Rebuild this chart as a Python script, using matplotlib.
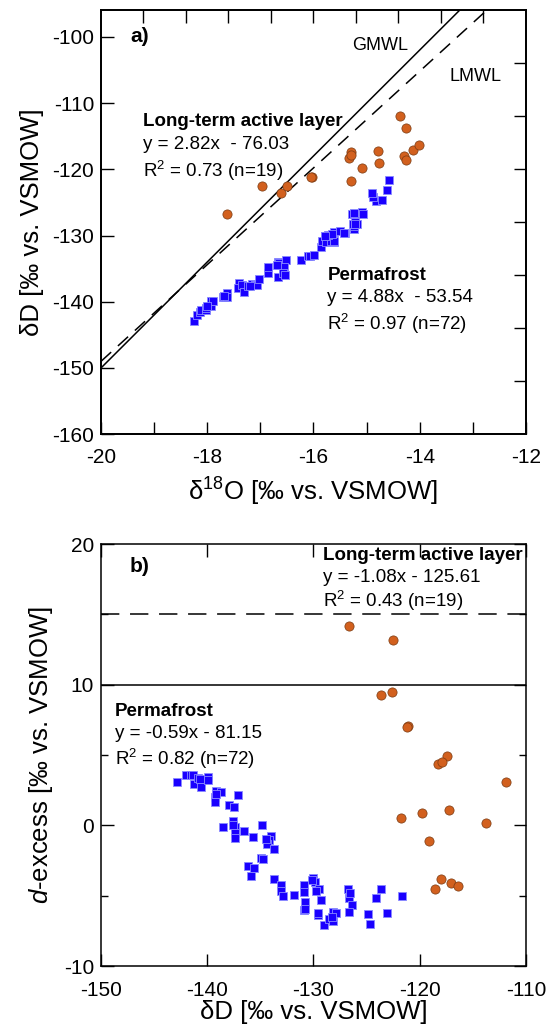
import numpy as np
import matplotlib
matplotlib.use("Agg")
import matplotlib.pyplot as plt

plt.rcParams['font.family'] = ['Liberation Sans', 'DejaVu Sans']
plt.rcParams['mathtext.fontset'] = 'custom'
plt.rcParams['mathtext.rm'] = 'Liberation Sans'
plt.rcParams['mathtext.it'] = 'Liberation Sans:italic'
plt.rcParams['mathtext.bf'] = 'Liberation Sans:bold'
plt.rcParams['axes.unicode_minus'] = False

# Long-term active layer (n=19)
al_d18o = [-17.62, -16.96, -16.61, -16.50, -16.02, -16.04, -15.30, -15.34, -15.30,
           -15.29, -15.09, -14.78, -14.76, -14.38, -14.26, -14.29, -14.25, -14.13, -14.02]
al_dD = [-126.7, -122.5, -123.6, -122.6, -121.1, -121.2, -117.4, -118.3, -117.9,
         -121.8, -119.8, -117.2, -119.1, -111.9, -113.8, -118.0, -118.6, -117.1, -116.4]
al_dexc = [14.2, 13.2, 9.3, 9.5, 7.1, 7.0, 4.9, 4.4, 4.5,
           0.5, 0.9, 1.1, -1.1, 3.1, 0.2, -3.8, -4.5, -4.1, -4.3]

# Permafrost (n=72)
pf_dD = [-142.88, -142.03, -141.56, -141.31, -141.25, -140.90, -140.59, -139.96, -139.96,
         -139.21, -138.71, -139.27, -139.30, -137.14, -137.95, -137.45, -138.49, -137.55,
         -137.39, -137.40, -137.40, -136.57, -135.66, -134.82, -134.03, -134.22, -134.40,
         -133.75, -134.94, -134.78, -136.20, -135.63, -135.91, -133.69, -133.09, -133.09,
         -132.90, -131.80, -130.86, -130.93, -130.77, -130.93, -130.77, -130.02, -129.89,
         -129.45, -129.80, -129.29, -129.58, -129.58, -129.01, -128.57, -128.19, -128.19,
         -127.91, -126.72, -126.69, -126.41, -126.69, -124.84, -124.71, -124.15, -123.62,
         -123.11, -121.64, -140.70, -137.60, -134.50, -130.10, -128.30, -126.60, -139.20]
pf_d18o = [-18.25, -18.20, -18.14, -18.11, -18.02, -18.03, -17.92, -17.93, -17.90,
           -17.71, -17.63, -17.66, -17.62, -17.41, -17.42, -17.35, -17.30, -17.23,
           -17.16, -17.10, -17.07, -17.03, -16.86, -16.86, -16.66, -16.65, -16.64,
           -16.51, -16.58, -16.55, -16.66, -16.57, -16.54, -16.24, -16.11, -16.06,
           -15.99, -15.86, -15.83, -15.77, -15.67, -15.61, -15.61, -15.79, -15.73,
           -15.62, -15.65, -15.50, -15.40, -15.42, -15.24, -15.24, -15.18, -15.25,
           -15.21, -15.28, -15.19, -15.09, -15.07, -14.82, -14.71, -14.88, -14.89,
           -14.61, -14.58, -18.00, -17.20, -16.69, -15.78, -15.22, -15.23, -17.68]
pf_dexc = [3.08, 3.56, 3.58, 3.56, 2.94, 3.37, 2.75, 3.46, 3.23,
           2.45, 2.35, 2.04, 1.69, 2.18, 1.43, 1.31, -0.11, 0.29,
           -0.11, -0.56, -0.87, -0.37, -0.82, 0.03, -0.78, -1.06, -1.32,
           -1.65, -2.29, -2.39, -2.91, -3.05, -3.60, -3.79, -4.21, -4.64,
           -5.00, -4.95, -4.24, -4.76, -5.42, -6.04, -5.93, -3.72, -4.05,
           -4.50, -4.64, -5.33, -6.39, -6.25, -7.06, -6.63, -6.77, -6.18,
           -6.20, -4.50, -5.14, -5.68, -6.15, -6.27, -7.01, -5.14, -4.50,
           -6.20, -5.04, 3.30, 0.00, -1.00, -3.90, -6.50, -4.80, 2.20]

# meteoric water lines (slope, intercept)
gmwl = (8.0, 10.0)
lmwl = (7.3, -3.0)
dexc_gmwl = 10
dexc_lmwl = 15

blue = '#1a00ff'
orange = '#d2601e'

fig = plt.figure(figsize=(5.53, 10.29), dpi=100)
ax1 = fig.add_axes([0.1826, 0.578, 0.7685, 0.412])
ax2 = fig.add_axes([0.1826, 0.0612, 0.7685, 0.410])

# ---- panel a) ----
xl = np.array([-20, -12])
ax1.plot(xl, gmwl[0] * xl + gmwl[1], color='k', lw=1.1)
ax1.plot(xl, lmwl[0] * xl + lmwl[1], color='k', lw=1.1, dashes=(9, 6))
ax1.scatter(pf_d18o, pf_dD, marker='s', s=38, color=blue, edgecolors='#8a8aff',
            linewidths=0.6, zorder=3)
ax1.scatter(al_d18o, al_dD, marker='o', s=44, color=orange, edgecolors='#7a3a12',
            linewidths=0.5, zorder=4)
ax1.set_xlim(-20, -12)
ax1.set_ylim(-160, -96)
ax1.set_xticks(np.arange(-20, -11, 2))
ax1.set_xticks(np.arange(-19, -12, 2), minor=True)
ax1.set_yticks(np.arange(-160, -99, 10))
ax1.tick_params(which='both', direction='in', labelsize=15, top=False, right=False,
                width=1, length=9)
ax1.tick_params(axis='x', pad=10)
ax1.tick_params(axis='y', pad=5)
ax1.set_xlabel(r'δ$^{18}$O [‰ vs. VSMOW]', fontsize=18.5)
ax1.set_ylabel('δD [‰ vs. VSMOW]', fontsize=18.5)
ax1.xaxis.set_label_coords(0.5, -0.097)
ax1.yaxis.set_label_coords(-0.135, 0.5)

tw = ax1.twinx()
tw.set_ylim(ax1.get_ylim())
tw.set_yticks(np.arange(-152, -100, 8))
tw.tick_params(direction='in', length=9, width=1, labelright=False)
ty = ax1.twiny()
ty.set_xlim(ax1.get_xlim())
ty.set_xticks(np.arange(-19.2, -12.1, 0.8))
ty.tick_params(direction='in', length=9, width=1, labeltop=False)

ax1.text(-19.45, -100, 'a)', fontsize=15, fontweight='bold', va='center')
ax1.text(-14.75, -101.3, 'GMWL', fontsize=13, ha='center', va='center')
ax1.text(-12.95, -106, 'LMWL', fontsize=13, ha='center', va='center')
ax1.text(-19.2, -112.8, 'Long-term active layer', fontsize=13.5, fontweight='bold', va='center')
ax1.text(-19.2, -116.2, 'y = 2.82x  - 76.03', fontsize=13.5, va='center')
ax1.text(-19.2, -120.3, r'R$^{2}$ = 0.73 (n=19)', fontsize=13.5, va='center')
ax1.text(-15.74, -136.1, 'Permafrost', fontsize=13.5, fontweight='bold', va='center')
ax1.text(-15.74, -139.3, 'y = 4.88x  - 53.54', fontsize=13.5, va='center')
ax1.text(-15.74, -143.3, r'R$^{2}$ = 0.97 (n=72)', fontsize=13.5, va='center')

# ---- panel b) ----
ax2.axhline(dexc_gmwl, color='k', lw=1.1)
ax2.axhline(dexc_lmwl, color='k', lw=1.1, dashes=(12, 7))
ax2.scatter(pf_dD, pf_dexc, marker='s', s=38, color=blue, edgecolors='#8a8aff',
            linewidths=0.6, zorder=3)
ax2.scatter(al_dD, al_dexc, marker='o', s=44, color=orange, edgecolors='#7a3a12',
            linewidths=0.5, zorder=4)
ax2.set_xlim(-150, -110)
ax2.set_ylim(-10, 20)
ax2.set_xticks(np.arange(-150, -109, 10))
ax2.set_yticks(np.arange(-10, 21, 10))
ax2.set_yticks([-5, 5, 15], minor=True)
ax2.tick_params(which='both', direction='in', labelsize=15, top=True, right=True,
                width=1)
ax2.tick_params(which='major', length=9)
ax2.tick_params(which='minor', length=5)
ax2.tick_params(axis='x', pad=11)
ax2.tick_params(axis='y', pad=5)
ax2.set_xlabel('δD [‰ vs. VSMOW]', fontsize=18.5)
ax2.set_ylabel(r'$\it{d}$-excess [‰ vs. VSMOW]', fontsize=18.5)
ax2.xaxis.set_label_coords(0.5, -0.08)
ax2.yaxis.set_label_coords(-0.108, 0.5)

ax2.text(-147.3, 18.4, 'b)', fontsize=15, fontweight='bold', va='center')
ax2.text(-129.1, 19.2, 'Long-term active layer', fontsize=13.5, fontweight='bold', va='center')
ax2.text(-129.1, 17.6, 'y = -1.08x - 125.61', fontsize=13.5, va='center')
ax2.text(-129.1, 15.95, r'R$^{2}$ = 0.43 (n=19)', fontsize=13.5, va='center')
ax2.text(-148.7, 8.1, 'Permafrost', fontsize=13.5, fontweight='bold', va='center')
ax2.text(-148.7, 6.5, 'y = -0.59x - 81.15', fontsize=13.5, va='center')
ax2.text(-148.7, 4.75, r'R$^{2}$ = 0.82 (n=72)', fontsize=13.5, va='center')

for a in (ax1, ax2, tw, ty):
    for sp in a.spines.values():
        sp.set_linewidth(1.1)

fig.savefig('out.png', dpi=100)
